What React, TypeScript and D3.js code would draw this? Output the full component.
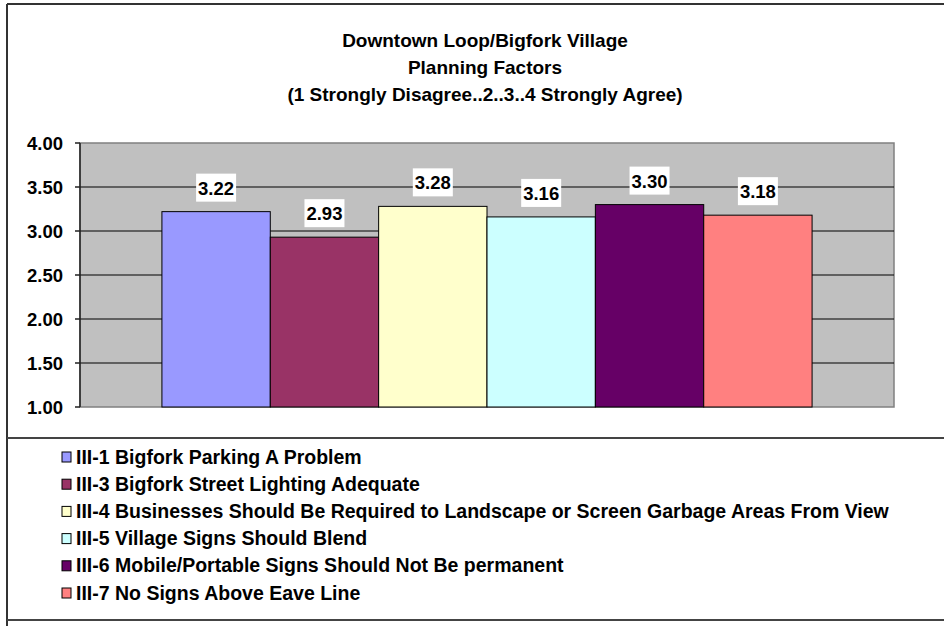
import React from "react";
import * as d3 from "d3";

const titleLines = [
  "Downtown Loop/Bigfork Village",
  "Planning Factors",
  "(1 Strongly Disagree..2..3..4 Strongly Agree)",
];
const seriesNames = [
  "III-1 Bigfork Parking A Problem",
  "III-3 Bigfork Street Lighting Adequate",
  "III-4 Businesses Should Be Required to Landscape or Screen Garbage Areas From View",
  "III-5 Village Signs Should Blend",
  "III-6 Mobile/Portable Signs Should Not Be permanent",
  "III-7 No Signs Above Eave Line",
];
const seriesValues = [3.22, 2.93, 3.28, 3.16, 3.3, 3.18];
const seriesColors = ["#9999FF", "#993366", "#FFFFCC", "#CCFFFF", "#660066", "#FF8080"];
const yTicks = [1, 1.5, 2, 2.5, 3, 3.5, 4];

const W = 944;
const H = 626;
const FONT = "'Liberation Sans', Arial, sans-serif";

const plot = { left: 80, right: 894, top: 143, bottom: 407 };

export default function App() {
  const y = d3.scaleLinear().domain([1, 4]).range([plot.bottom, plot.top]);
  // one category, six series side by side
  const outer = d3.scaleBand().domain(["all"]).range([plot.left, plot.right]).paddingOuter(0.126).paddingInner(0);
  const x = d3
    .scaleBand()
    .domain(seriesNames)
    .range([outer("all"), outer("all") + outer.bandwidth()])
    .padding(0);

  return (
    <svg
      width={W}
      height={H}
      style={{ position: "absolute", left: 0, top: 0, background: "#fff" }}
      fontFamily={FONT}
      fontWeight="bold"
    >
      {/* frame */}
      <line x1={7} x2={W} y1={4} y2={4} stroke="#333" strokeWidth={2} />
      <line x1={7} x2={7} y1={4} y2={H} stroke="#333" strokeWidth={2} />
      <line x1={7} x2={W} y1={438} y2={438} stroke="#444" strokeWidth={2} />
      <line x1={7} x2={W} y1={620} y2={620} stroke="#444" strokeWidth={2} />

      {/* title */}
      {titleLines.map((t, i) => (
        <text key={t} x={485} y={47 + i * 27} textAnchor="middle" fontSize={19} fill="#000">
          {t}
        </text>
      ))}

      {/* plot area */}
      <rect
        x={plot.left}
        y={plot.top}
        width={plot.right - plot.left}
        height={plot.bottom - plot.top}
        fill="#C0C0C0"
        stroke="#808080"
        strokeWidth={1.5}
      />
      {yTicks
        .filter((t) => t > 1 && t < 4)
        .map((t) => (
          <line key={t} x1={plot.left} x2={plot.right} y1={y(t)} y2={y(t)} stroke="#000" strokeWidth={1} />
        ))}

      {/* bars */}
      {seriesNames.map((s, i) => (
        <rect
          key={s}
          x={x(s)}
          y={y(seriesValues[i])}
          width={x.bandwidth()}
          height={y(1) - y(seriesValues[i])}
          fill={seriesColors[i]}
          stroke="#000"
          strokeWidth={1}
        />
      ))}

      {/* data labels */}
      {seriesNames.map((s, i) => {
        const cx = x(s) + x.bandwidth() / 2;
        const top = y(seriesValues[i]) - 10;
        return (
          <g key={s}>
            <rect x={cx - 20} y={top - 28} width={40} height={28} fill="#fff" />
            <text x={cx} y={top - 7} textAnchor="middle" fontSize={18.5} fill="#000">
              {d3.format(".2f")(seriesValues[i])}
            </text>
          </g>
        );
      })}

      {/* y axis */}
      <line x1={plot.left} x2={plot.left} y1={plot.top} y2={plot.bottom} stroke="#222" strokeWidth={1.5} />
      {yTicks.map((t) => (
        <g key={t}>
          <line x1={plot.left - 5} x2={plot.left} y1={y(t)} y2={y(t)} stroke="#222" strokeWidth={1.5} />
          <text x={63} y={y(t) + 6.5} textAnchor="end" fontSize={18.5} fill="#000">
            {d3.format(".2f")(t)}
          </text>
        </g>
      ))}

      {/* legend */}
      {seriesNames.map((s, i) => {
        const cy = 457 + i * 27.2;
        return (
          <g key={s}>
            <rect x={62} y={cy - 5} width={9} height={10} fill={seriesColors[i]} stroke="#000" strokeWidth={1} />
            <text x={76} y={cy + 6.5} fontSize={19.5} fill="#000">
              {s}
            </text>
          </g>
        );
      })}
    </svg>
  );
}
